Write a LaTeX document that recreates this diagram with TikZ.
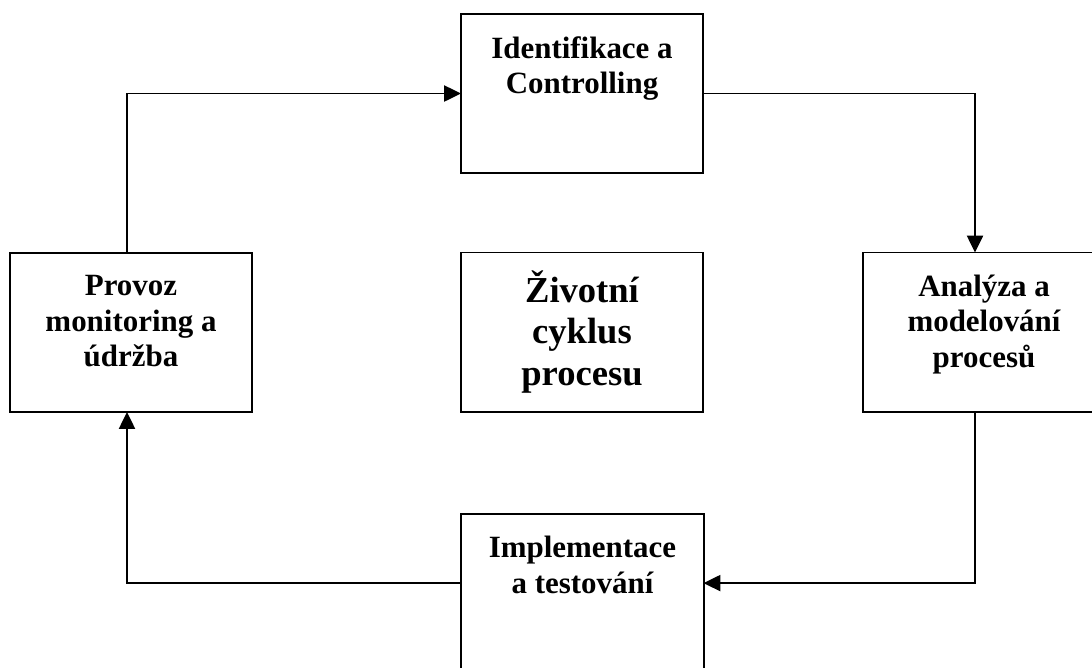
\documentclass[tikz,border=0pt]{standalone}
\usepackage{fontspec}
\setmainfont{Liberation Serif}
\usetikzlibrary{positioning,arrows.meta}
\begin{document}
\begin{tikzpicture}[x=0.025cm,y=-0.025cm,
    box/.style={draw,line width=1.4pt,minimum width=6.05cm,minimum height=3.975cm,inner sep=0pt,outer sep=0pt},
    txt/.style={align=center,inner sep=0pt,font=\bfseries\fontsize{22}{25.3}\selectfont},
    bigtxt/.style={align=center,inner sep=0pt,font=\bfseries\fontsize{26}{29.5}\selectfont},
    flow/.style={line width=1.4pt,-{Triangle[length=0.42cm,width=0.4cm]}}]
      \useasboundingbox (0,0) rectangle (1092,667);
      \clip (0,0) rectangle (1092,667);
      \node[box] (ident) at (582,93.5) {};
      \node[box] (provoz) at (131,332.5) {};
      \node[box] (cyklus) at (582,332) {};
      \node[box] (analyza) at (984,332) {};
      \node[box] (impl) at (582.5,593.5) {};
      \node[txt,below=0.55cm of ident.north] (identtxt) {Identifikace a\\Controlling};
      \node[txt,below=0.55cm of provoz.north] (provoztxt) {Provoz\\monitoring a\\údržba};
      \node[bigtxt,below=0.45cm of cyklus.north] (cyklustxt) {Životní\\cyklus\\procesu};
      \node[txt,below=0.55cm of analyza.north] (analyzatxt) {Analýza a\\modelování\\procesů};
      \node[txt,below=0.55cm of impl.north] (impltxt) {Implementace\\a testování};
      \begin{scope}[flow]
        \draw ([xshift=-0.1cm]provoz.north) |- (ident.west);
        \draw (ident.east) -| ([xshift=-0.225cm]analyza.north);
        \draw ([xshift=-0.225cm]analyza.south) |- ([yshift=0.26cm]impl.east);
        \draw ([yshift=0.26cm]impl.west) -| ([xshift=-0.1cm]provoz.south);
      \end{scope}
    \end{tikzpicture}
\end{document}
